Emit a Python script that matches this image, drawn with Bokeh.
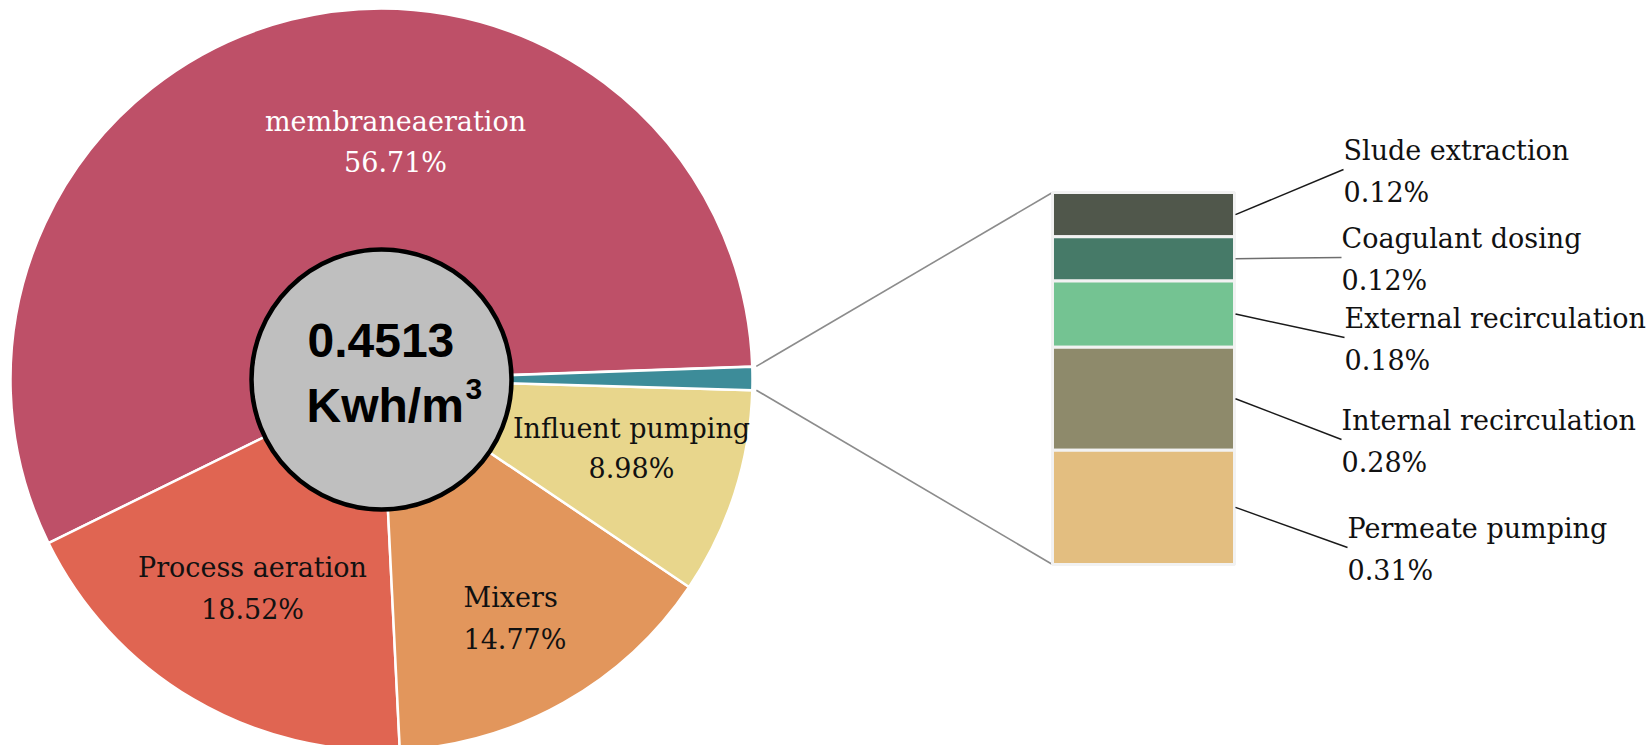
import math
from bokeh.plotting import figure
from bokeh.models import Range1d
from bokeh.core.properties import value
from bokeh.embed import file_html
from bokeh.resources import INLINE

# ---------------- data ----------------
pie_categories = ["membraneaeration", "Process aeration", "Mixers", "Influent pumping"]
pie_values = [56.71, 18.52, 14.77, 8.98]
pie_colors = ["#BE5068", "#E06552", "#E2965C", "#E8D68C"]
other_color = "#3D8C99"

bar_categories = ["Slude extraction", "Coagulant dosing", "External recirculation",
                  "Internal recirculation", "Permeate pumping"]
bar_values = [0.12, 0.12, 0.18, 0.28, 0.31]
bar_colors = ["#50574B", "#467A68", "#74C392", "#8E8A6B", "#E3BE80"]

center_value = "0.4513"
center_unit = "Kwh/m"
center_unit_sup = "3"

# ---------------- layout (reference pixel coordinates) ----------------
W, H = 1650, 745
def Y(yf):
    return H - yf

CX, CY, R = 381, Y(379), 371
START_DEG = 2.0
INNER_R = 130

BAR_L, BAR_R, BAR_TOP, BAR_BOT = 1052, 1234, 192, 564

# pie label placement: (x, name baseline, value baseline, align)
pie_label_pos = [(395, 121, 162, "center"), (252, 567, 609, "center"),
                 (463, 597, 639, "left"), (631, 428, 468, "center")]
pie_label_colors = ["white", "#111111", "#111111", "#111111"]
# bar label placement: (x, leader end y)
bar_label_pos = [(1343, 169), (1341, 257), (1344, 337), (1341, 439), (1347, 547)]
leader_colors = ["#1A1A1A", "#6E6E6E", "#1A1A1A", "#1A1A1A", "#1A1A1A"]

FONT = value("DejaVu Serif")
FS = "27px"

p = figure(width=W, height=H, x_range=Range1d(0, W), y_range=Range1d(0, H),
           output_backend="svg", toolbar_location=None, min_border=0,
           x_axis_location=None, y_axis_location=None)
p.grid.visible = False
p.outline_line_color = None
p.background_fill_color = "white"

# ---------------- pie ----------------
other_total = sum(bar_values)
all_vals = pie_values + [other_total]
all_cols = pie_colors + [other_color]
cum = 0.0
starts, ends = [], []
for v in all_vals:
    starts.append(math.radians(START_DEG + cum * 3.6))
    cum += v
    ends.append(math.radians(START_DEG + cum * 3.6))
p.wedge(x=[CX] * len(all_vals), y=[CY] * len(all_vals), radius=R,
        start_angle=starts, end_angle=ends, direction="anticlock",
        fill_color=all_cols, line_color="white", line_width=2.5)

# inner circle
p.circle(x=[CX], y=[CY], radius=INNER_R, fill_color="#BFBFBF",
         line_color="black", line_width=4.5)

p.text(x=[307], y=[Y(340)], text=[center_value], text_font=value("Liberation Sans"),
       text_font_style="bold", text_font_size="48px", text_color="black",
       text_baseline="alphabetic", text_align="left")
p.text(x=[306], y=[Y(405)], text=[center_unit], text_font=value("Liberation Sans"),
       text_font_style="bold", text_font_size="48px", text_color="black",
       text_baseline="alphabetic", text_align="left")
p.text(x=[465], y=[Y(388)], text=[center_unit_sup], text_font=value("Liberation Sans"),
       text_font_style="bold", text_font_size="30px", text_color="black",
       text_baseline="alphabetic", text_align="left")

# pie labels
for name, v, (lx, b1, b2, al), col in zip(pie_categories, pie_values, pie_label_pos, pie_label_colors):
    p.text(x=[lx, lx], y=[Y(b1), Y(b2)], text=[name, f"{v:.2f}%"], text_font=FONT,
           text_font_size=FS, text_color=col, text_baseline="alphabetic", text_align=al)

# ---------------- connector lines pie -> bar ----------------
a_top = math.radians(START_DEG)
a_bot = math.radians(START_DEG - other_total * 3.6)
rr = R + 4
p.line(x=[CX + rr * math.cos(a_top), BAR_L], y=[CY + rr * math.sin(a_top), Y(BAR_TOP)],
       line_color="#8C8C8C", line_width=1.6)
p.line(x=[CX + rr * math.cos(a_bot), BAR_L], y=[CY + rr * math.sin(a_bot), Y(BAR_BOT)],
       line_color="#8C8C8C", line_width=1.6)

# ---------------- stacked bar ----------------
scale = (BAR_BOT - BAR_TOP) / other_total
tops, bots = [], []
yy = BAR_TOP
for v in bar_values:
    tops.append(yy)
    yy += v * scale
    bots.append(yy)
p.quad(left=[BAR_L] * len(bar_values), right=[BAR_R] * len(bar_values),
       top=[Y(t) for t in tops], bottom=[Y(b) for b in bots],
       fill_color=bar_colors, line_color="#F2F2F2", line_width=3)

# bar labels + leader lines
for name, v, t, b, (lx, ly), lc in zip(bar_categories, bar_values, tops, bots, bar_label_pos, leader_colors):
    mid = (t + b) / 2
    p.line(x=[BAR_R + 1, lx], y=[Y(mid), Y(ly)], line_color=lc, line_width=1.5)
    p.text(x=[lx, lx], y=[Y(ly - 19), Y(ly + 23)], text=[name, f"{v:.2f}%"], text_font=FONT,
           text_font_size=FS, text_color="#111111", text_baseline="alphabetic", text_align="left")

open("out.html", "w").write(file_html(p, INLINE))
